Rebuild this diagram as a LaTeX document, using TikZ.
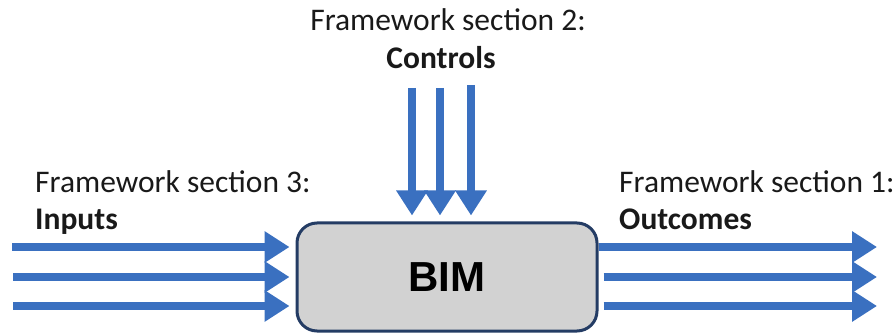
\documentclass[tikz,border=0pt]{standalone}
\usepackage{fontspec}
\setmainfont{Carlito}
\newfontfamily\arialfont{Liberation Sans}
\usetikzlibrary{arrows.meta}
\definecolor{arrowblue}{RGB}{58,112,192}
\definecolor{boxgray}{RGB}{210,210,210}
\definecolor{boxedge}{RGB}{36,60,100}
\definecolor{txt}{RGB}{25,25,25}
\tikzset{
  flow/.style={draw=arrowblue, line width=8pt,
    -{Triangle[width=30pt,length=25pt]}},
  lbl/.style={inner sep=0pt, text=txt, font=\fontsize{31.5}{38}\selectfont},
  lblb/.style={lbl, font=\fontsize{31.5}{38}\selectfont\bfseries},
}
\begin{document}
\begin{tikzpicture}[x=1pt,y=-1pt]
\useasboundingbox (0,0) rectangle (893,336);
% box
\node[draw=boxedge, line width=3pt, fill=boxgray, rounded corners=20pt,
      minimum width=300pt, minimum height=108pt, inner sep=0pt,
      font=\arialfont\bfseries\fontsize{42}{48}\selectfont] (bim) at (447,277) {BIM};
% labels
\node[lbl, anchor=base] (t2) at (448,31) {Framework section 2:};
\node[lblb, anchor=base] (c2) at (441,69) {Controls};
\node[lbl, anchor=base west] (t3) at (35,193) {Framework section 3:};
\node[lblb, anchor=base west] (c3) at (35,230) {Inputs};
\node[lbl, anchor=base west] (t1) at (619,193) {Framework section 1:};
\node[lblb, anchor=base west] (c1) at (619,230) {Outcomes};
% inputs
\coordinate (i1) at (12,247);
\coordinate (i2) at (13,277);
\coordinate (i3) at (13,306);
\foreach \c in {i1,i2,i3}
  \draw[flow, shorten >=6pt] (\c) -- (\c -| bim.west);
% controls
\coordinate (k1) at (412,88);
\coordinate (k2) at (440,88);
\coordinate (k3) at (471,85);
\foreach \c in {k1,k2,k3}
  \draw[flow, shorten >=6pt] (\c) -- (\c |- bim.north);
% outcomes
\coordinate (o1) at (877,247);
\coordinate (o2) at (877,277);
\coordinate (o3) at (877,306);
\draw[flow] (bim.east |- o1) -- (o1);
\draw[flow, shorten <=5pt] (bim.east |- o2) -- (o2);
\draw[flow, shorten <=5pt] (bim.east |- o3) -- (o3);
\end{tikzpicture}
\end{document}
